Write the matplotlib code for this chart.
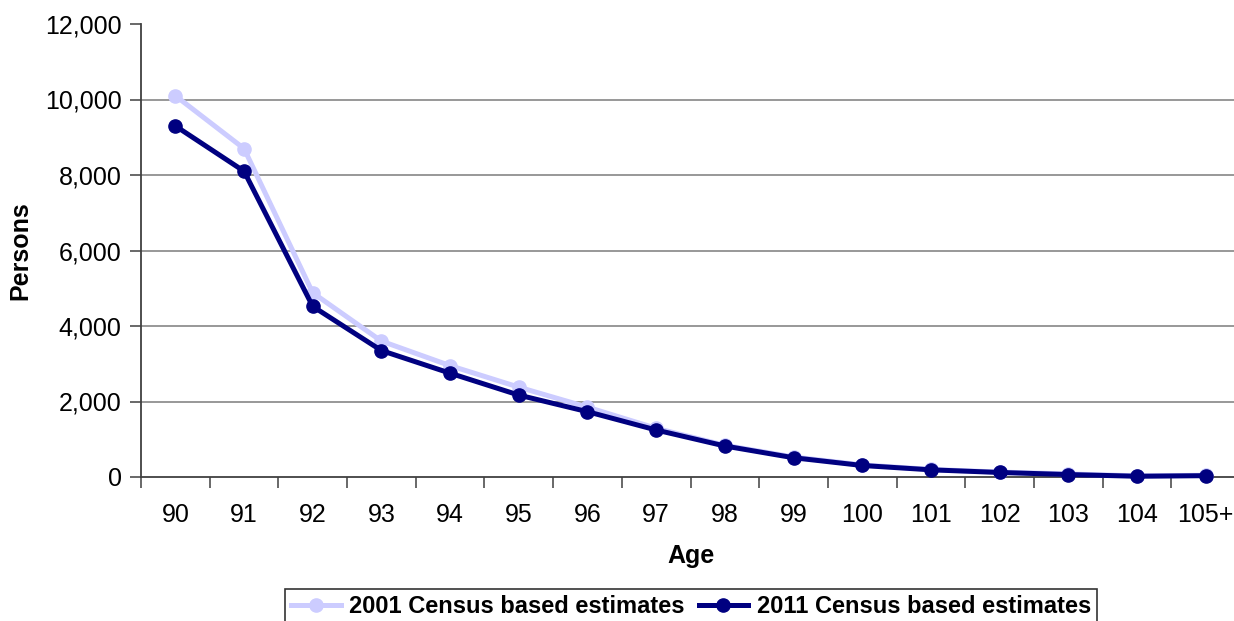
import matplotlib
matplotlib.use("Agg")
import matplotlib.pyplot as plt
from matplotlib.ticker import FuncFormatter, FixedLocator

plt.rcParams['font.family'] = ['Liberation Sans', 'DejaVu Sans']

ages = ["90", "91", "92", "93", "94", "95", "96", "97", "98", "99",
        "100", "101", "102", "103", "104", "105+"]
est_2001 = [10100, 8700, 4880, 3600, 2950, 2380, 1850, 1290, 840, 530,
            320, 200, 130, 80, 30, 45]
est_2011 = [9300, 8100, 4520, 3350, 2750, 2170, 1730, 1245, 821, 510,
            305, 190, 120, 65, 20, 35]

W, H = 1234, 621
fig = plt.figure(figsize=(W / 100, H / 100), dpi=100)
ax = fig.add_axes([141 / W, 1 - 477 / H, (1240 - 141) / W, (477 - 24) / H])

x = list(range(len(ages)))
l1, = ax.plot(x, est_2001, color="#CCCCFF", lw=3.6, marker="o", ms=9.5,
              label="2001 Census based estimates", zorder=3, clip_on=False)
l2, = ax.plot(x, est_2011, color="#000080", lw=3.6, marker="o", ms=9.5,
              label="2011 Census based estimates", zorder=4, clip_on=False)

ax.set_xlim(-0.5, len(ages) - 0.5)
ax.set_ylim(0, 12000)

# Tick marks on category boundaries, labels centred on categories
ax.xaxis.set_major_locator(FixedLocator([i - 0.5 for i in range(len(ages) + 1)]))
ax.xaxis.set_major_formatter(FuncFormatter(lambda v, p: ""))
ax.xaxis.set_minor_locator(FixedLocator(x))
ax.set_xticklabels(ages, minor=True)
ax.tick_params(axis="x", which="major", length=8, width=1.1, color="#404040", direction="out")
ax.tick_params(axis="x", which="minor", length=0, pad=19, labelsize=18)

ax.set_yticks(range(0, 12001, 2000))
ax.yaxis.set_major_formatter(FuncFormatter(lambda v, p: f"{int(v):,}"))
ax.tick_params(axis="y", length=8, width=1.1, color="#404040", direction="out",
               labelsize=18, pad=6)

for v in range(2000, 12000, 2000):
    ax.axhline(v, color="#909090", lw=1.3, zorder=1)

for s in ["top", "right"]:
    ax.spines[s].set_visible(False)
for s in ["left", "bottom"]:
    ax.spines[s].set_color("#404040")
    ax.spines[s].set_linewidth(1.3)

ax.set_xlabel("Age", fontsize=18, fontweight="bold", labelpad=12)
ax.set_ylabel("Persons", fontsize=18, fontweight="bold", labelpad=9)

leg = fig.legend(handles=[l1, l2], loc="upper center",
                 bbox_to_anchor=(691 / W, 1 - 589 / H), ncol=2,
                 frameon=True, fancybox=False, edgecolor="black",
                 prop={"size": 17, "weight": "bold"},
                 handlelength=2.1, handletextpad=0.35, columnspacing=0.6,
                 borderpad=0.25, borderaxespad=0)
leg.get_frame().set_linewidth(1.2)

fig.savefig("out.png", dpi=100)
